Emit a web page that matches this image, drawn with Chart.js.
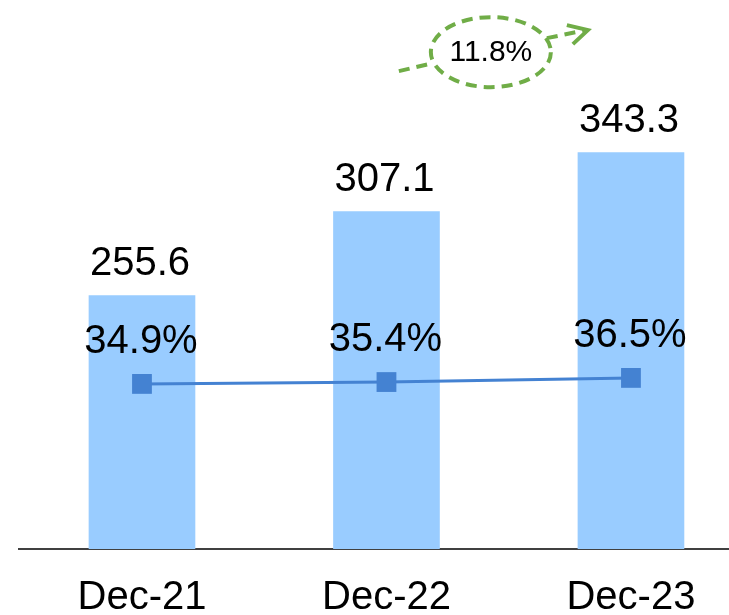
<!DOCTYPE html>
<html>
<head>
<meta charset="utf-8">
<script src="https://cdn.jsdelivr.net/npm/chart.js@4.4.0/dist/chart.umd.min.js"></script>
<style>
  html, body { margin: 0; padding: 0; background: #fff; overflow: hidden; }
  #wrap { width: 729px; height: 615px; position: relative; }
  #revChart { display: block; }
</style>
</head>
<body>
<div id="wrap"><canvas id="revChart"></canvas></div>
<script>
var categories = ['Dec-21', 'Dec-22', 'Dec-23'];
var revenue = [255.6, 307.1, 343.3];
var margin = [34.9, 35.4, 36.5];
var cagrText = '11.8%';

var FONT = '"Liberation Sans", Arial, sans-serif';

// value labels above bars and points, plus the CAGR bubble
var labelPlugin = {
    id: 'labels',
    afterDatasetsDraw: function(chart) {
        var ctx = chart.ctx;
        ctx.save();
        ctx.fillStyle = '#000';
        ctx.textAlign = 'center';
        ctx.textBaseline = 'alphabetic';
        ctx.font = '40px ' + FONT;
        chart.getDatasetMeta(0).data.forEach(function(bar, i) {
            ctx.fillText(revenue[i].toFixed(1), bar.x - 2, bar.y - 21);
        });
        chart.getDatasetMeta(1).data.forEach(function(pt, i) {
            ctx.fillText(margin[i].toFixed(1) + '%', pt.x - 1, pt.y - 31);
        });

        // CAGR ellipse with dashed arrow
        var cx = chart.scales.x.getPixelForValue(1.427);
        var cy = chart.scales.y.getPixelForValue(405);
        var green = '#70AD47';
        ctx.strokeStyle = green;
        ctx.lineWidth = 4;
        ctx.setLineDash([11, 7]);
        ctx.beginPath();
        ctx.ellipse(cx, cy, 60, 35, 0, 0, Math.PI * 2);
        ctx.stroke();
        ctx.beginPath();
        ctx.moveTo(cx - 92, cy + 19);
        ctx.lineTo(cx - 58, cy + 11);
        ctx.moveTo(cx + 56, cy - 14);
        ctx.lineTo(cx + 95, cy - 22);
        ctx.stroke();
        ctx.setLineDash([]);
        ctx.beginPath();
        ctx.moveTo(cx + 76, cy - 27);
        ctx.lineTo(cx + 97, cy - 22);
        ctx.lineTo(cx + 82, cy - 8);
        ctx.stroke();

        ctx.fillStyle = '#000';
        ctx.font = '30px ' + FONT;
        ctx.textBaseline = 'middle';
        ctx.fillText(cagrText, cx, cy + 1);
        ctx.restore();
    }
};

var ctx = document.getElementById('revChart');
var chart = new Chart(ctx, {
    type: 'bar',
    data: {
        datasets: [{
            type: 'bar',
            data: categories.map(function(c, i) { return { x: i, y: revenue[i] }; }),
            backgroundColor: '#99CCFF',
            barThickness: 106,
            yAxisID: 'y',
            order: 1
        }, {
            type: 'line',
            data: categories.map(function(c, i) { return { x: i, y: margin[i] }; }),
            borderColor: '#4482D2',
            borderWidth: 3,
            pointStyle: 'rect',
            pointRadius: 14,
            pointBackgroundColor: '#4482D2',
            pointBorderWidth: 0,
            yAxisID: 'y2',
            order: 0
        }]
    },
    options: {
        responsive: true,
        maintainAspectRatio: false,
        animation: false,
        layout: { autoPadding: false, padding: { left: 19, right: 0, top: 0, bottom: 0 } },
        plugins: {
            legend: { display: false },
            tooltip: { enabled: false }
        },
        scales: {
            x: {
                type: 'linear',
                min: -0.503,
                max: 2.401,
                offset: false,
                grid: { display: false, drawTicks: false },
                border: { display: true, color: '#404040', width: 2 },
                afterBuildTicks: function(scale) {
                    scale.ticks = categories.map(function(c, i) { return { value: i }; });
                },
                afterFit: function(scale) { scale.height = 66; },
                ticks: {
                    autoSkip: false,
                    maxRotation: 0,
                    padding: 25,
                    color: '#000',
                    font: { family: FONT, size: 40 },
                    callback: function(v) { return categories[v]; }
                }
            },
            y: { display: false, min: 100, max: 437 },
            y2: { display: false, min: -9, max: 137 }
        }
    },
    plugins: [labelPlugin]
});
</script>
</body>
</html>
